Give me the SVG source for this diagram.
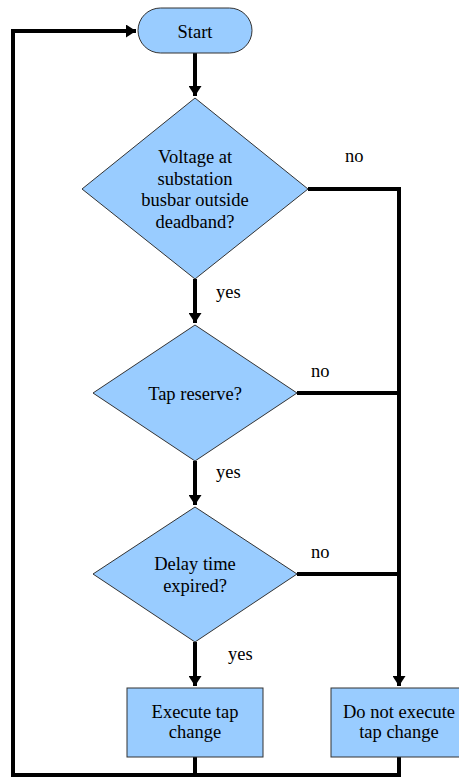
<svg xmlns="http://www.w3.org/2000/svg" width="459" height="778" viewBox="0 0 459 778">
<style>
.shape{fill:#99CCFF;stroke:#333333;stroke-width:1}
text{font-family:'Liberation Serif','Times New Roman',Times,serif;font-size:18.5px;fill:#000}
.t{text-anchor:middle}
.c{fill:none;stroke:#000;stroke-width:4;stroke-linejoin:miter}
</style>
<defs>
<marker id="ah" markerUnits="userSpaceOnUse" markerWidth="10" markerHeight="13" refX="10" refY="6.5" orient="auto">
<path d="M0,0 L10,6.5 L0,13 Z" fill="#000"/>
</marker>
</defs>
<rect width="459" height="778" fill="#fff"/>
<g id="connectors">
<path class="c" d="M195,53 V96" marker-end="url(#ah)"/>
<path class="c" d="M195,279 V323" marker-end="url(#ah)"/>
<path class="c" d="M195,461 V505" marker-end="url(#ah)"/>
<path class="c" d="M195,642 V686" marker-end="url(#ah)"/>
<path class="c" d="M308,189 H399 V686" marker-end="url(#ah)"/>
<path class="c" d="M297,393 H399"/>
<path class="c" d="M297,574 H399"/>
<path class="c" d="M195,757 V775"/>
<path class="c" d="M399,757 V775 H13 V31 H136" marker-end="url(#ah)"/>
<text x="345" y="162">no</text>
<text x="216" y="298">yes</text>
<text x="311" y="377">no</text>
<text x="216" y="478">yes</text>
<text x="311" y="558">no</text>
<text x="228" y="660">yes</text>
</g>
<g id="start">
<rect class="shape" x="138" y="8" width="114" height="45" rx="22.5" ry="22.5"/>
<text class="t" x="195" y="37.5">Start</text>
</g>
<g id="decision-voltage">
<polygon class="shape" points="195,98 308,189 195,279 82,189"/>
<text class="t" x="195" y="163">Voltage at</text>
<text class="t" x="195" y="184.7">substation</text>
<text class="t" x="195" y="206.4">busbar outside</text>
<text class="t" x="195" y="228">deadband?</text>
</g>
<g id="decision-tap">
<polygon class="shape" points="195,325 297,393 195,461 93,393"/>
<text class="t" x="195" y="400">Tap reserve?</text>
</g>
<g id="decision-delay">
<polygon class="shape" points="195,507 297,574 195,642 93,574"/>
<text class="t" x="195" y="570">Delay time</text>
<text class="t" x="195" y="592">expired?</text>
</g>
<g id="execute">
<rect class="shape" x="127" y="688" width="136" height="69"/>
<text class="t" x="195" y="718">Execute tap</text>
<text class="t" x="195" y="738">change</text>
</g>
<g id="not-execute">
<rect class="shape" x="331" y="688" width="136" height="69"/>
<text class="t" x="399" y="718">Do not execute</text>
<text class="t" x="399" y="738">tap change</text>
</g>
</svg>
